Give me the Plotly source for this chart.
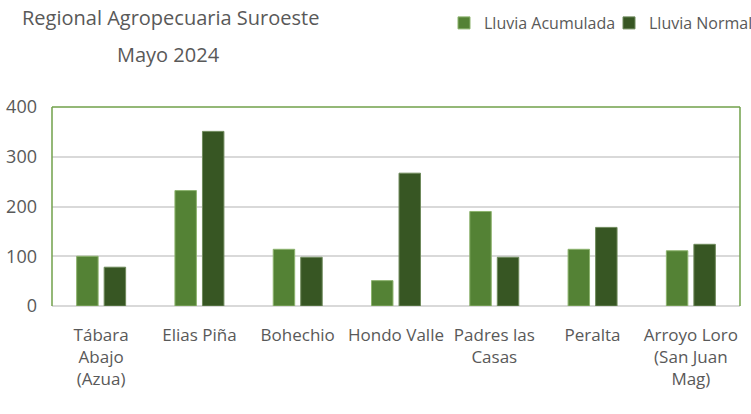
import plotly.graph_objects as go

categories = ["Tábara<br>Abajo<br>(Azua)", "Elias Piña", "Bohechio", "Hondo Valle",
              "Padres las<br>Casas", "Peralta", "Arroyo Loro<br>(San Juan<br>Mag)"]
lluvia_acumulada = [100, 232, 114, 51, 190, 114, 111]
lluvia_normal = [78, 351, 98, 267, 98, 158, 124]
y_ticks = [0, 100, 200, 300, 400]

FONT = "Open Sans"
GRAY = "#595959"
W, H = 751, 414
L, R, T, B = 52, 11, 107, 108
pw, ph = W - L - R, H - T - B

fig = go.Figure()
fig.add_trace(go.Bar(x=categories, y=lluvia_acumulada, name="Lluvia Acumulada",
                     marker=dict(color="#548235", line=dict(color="#8db36e", width=1))))
fig.add_trace(go.Bar(x=categories, y=lluvia_normal, name="Lluvia Normal",
                     marker=dict(color="#375623", line=dict(color="#6f8a5c", width=1))))


def px_x(x):
    return (x - L) / pw


def px_y(y):
    return (H - B - y) / ph


fig.update_layout(
    width=W, height=H,
    margin=dict(l=L, r=R, t=T, b=B, autoexpand=False),
    plot_bgcolor="white", paper_bgcolor="white",
    barmode="group", bargap=0.44, bargroupgap=0.22,
    font=dict(family=FONT, color=GRAY),
    showlegend=True,
    legend=dict(orientation="h", x=444 / W, xanchor="left", y=1 - 6 / H, yanchor="top",
                xref="container", yref="container",
                font=dict(size=16, color=GRAY, family=FONT),
                itemwidth=30, traceorder="normal",
                entrywidth=120, entrywidthmode="pixels"),
    annotations=[
        dict(text="Regional Agropecuaria Suroeste", x=px_x(170), y=px_y(18),
             xref="paper", yref="paper", xanchor="center", yanchor="middle", showarrow=False,
             font=dict(size=20, color=GRAY, family=FONT)),
        dict(text="Mayo 2024", x=px_x(168), y=px_y(55),
             xref="paper", yref="paper", xanchor="center", yanchor="middle", showarrow=False,
             font=dict(size=20, color=GRAY, family=FONT)),
    ],
)

fig.update_xaxes(showgrid=False, showline=False, ticks="", automargin=False,
                 tickfont=dict(size=17, color=GRAY, family=FONT),
                 ticklabelstandoff=17)
fig.update_yaxes(range=[0, 400], tickvals=y_ticks, showgrid=True, gridcolor="#d9d9d9", gridwidth=1.5,
                 zeroline=True, zerolinecolor="#d9d9d9", zerolinewidth=1.5,
                 showline=False, ticks="", automargin=False,
                 tickfont=dict(size=18, color=GRAY, family=FONT),
                 ticklabelstandoff=14)
for x0, x1, y0, y1 in [(0, 0, 0, 1), (0, 1, 1, 1), (1, 1, 0, 1)]:
    fig.add_shape(type="line", xref="paper", yref="paper", x0=x0, x1=x1, y0=y0, y1=y1,
                  line=dict(color="#70a14a", width=1.5))

fig.write_html("out.html", config={"displayModeBar": False},
               post_script="document.body.style.margin='0';")
